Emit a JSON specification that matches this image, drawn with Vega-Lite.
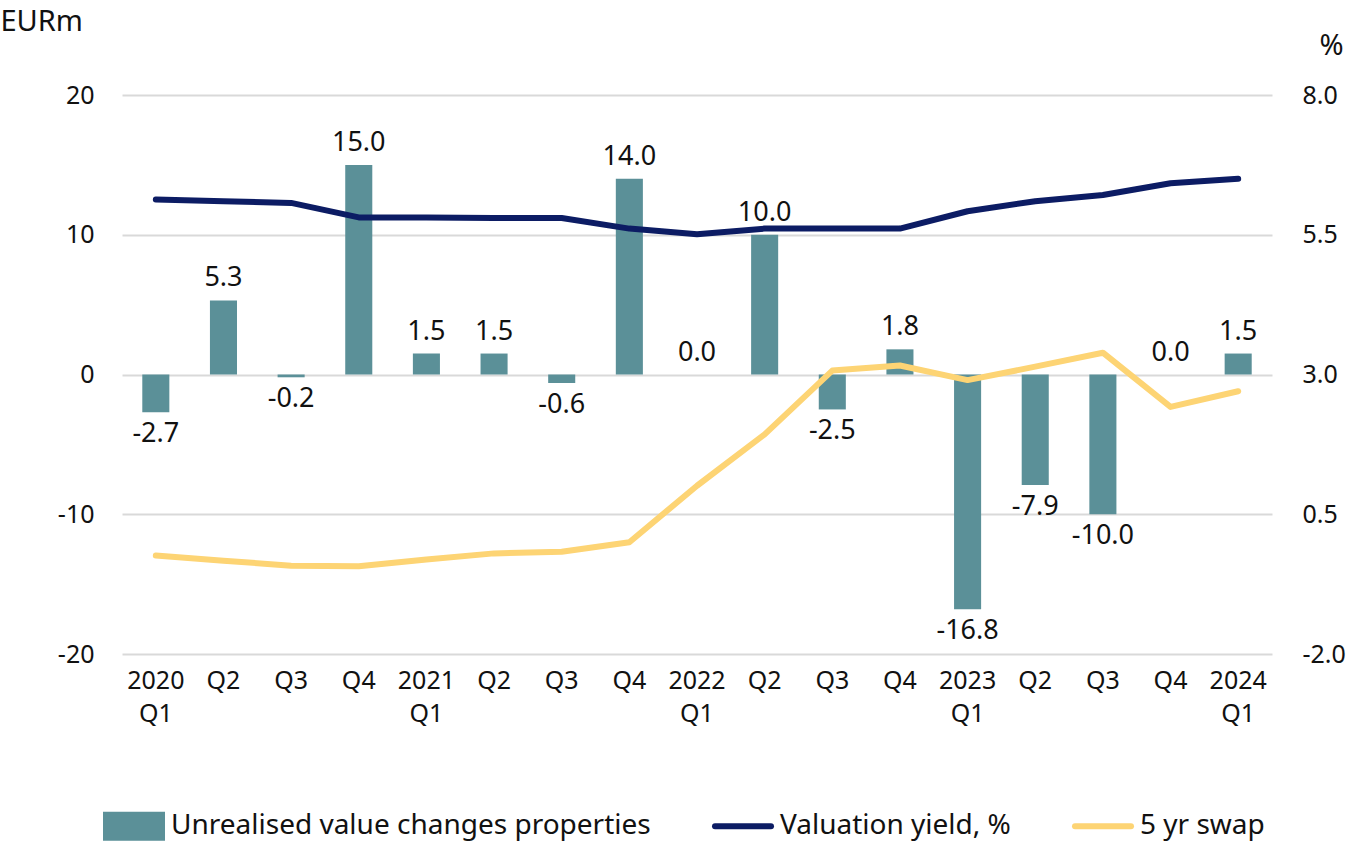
{
  "$schema": "https://vega.github.io/schema/vega-lite/v6.json",
  "width": 1150,
  "height": 559,
  "autosize": {"type": "none"},
  "padding": {"left": 122, "top": 95, "right": 85, "bottom": 188},
  "background": "white",
  "config": {
    "font": "Noto Sans",
    "view": {"stroke": null},
    "locale": {"number": {"decimal": ".", "thousands": ",", "grouping": [3], "currency": ["$", ""], "minus": "-"}},
    "axis": {"labelFont": "Noto Sans", "labelColor": "#111111", "titleFont": "Noto Sans", "titleColor": "#111111", "titleFontWeight": "normal"}
  },
  "data": {
    "values": [
      {"q": "2020 Q1", "v": -2.7, "yield": 6.13, "swap": -0.24},
      {"q": "2020 Q2", "v": 5.3, "yield": 6.10, "swap": -0.33},
      {"q": "2020 Q3", "v": -0.2, "yield": 6.07, "swap": -0.42},
      {"q": "2020 Q4", "v": 15.0, "yield": 5.81, "swap": -0.43},
      {"q": "2021 Q1", "v": 1.5, "yield": 5.81, "swap": -0.31},
      {"q": "2021 Q2", "v": 1.5, "yield": 5.80, "swap": -0.20},
      {"q": "2021 Q3", "v": -0.6, "yield": 5.80, "swap": -0.17},
      {"q": "2021 Q4", "v": 14.0, "yield": 5.61, "swap": 0.0},
      {"q": "2022 Q1", "v": 0.0, "yield": 5.51, "swap": 1.01},
      {"q": "2022 Q2", "v": 10.0, "yield": 5.61, "swap": 1.93},
      {"q": "2022 Q3", "v": -2.5, "yield": 5.61, "swap": 3.07},
      {"q": "2022 Q4", "v": 1.8, "yield": 5.61, "swap": 3.16},
      {"q": "2023 Q1", "v": -16.8, "yield": 5.92, "swap": 2.90},
      {"q": "2023 Q2", "v": -7.9, "yield": 6.10, "swap": 3.14},
      {"q": "2023 Q3", "v": -10.0, "yield": 6.21, "swap": 3.39},
      {"q": "2023 Q4", "v": 0.0, "yield": 6.42, "swap": 2.42},
      {"q": "2024 Q1", "v": 1.5, "yield": 6.50, "swap": 2.70}
    ]
  },
  "encoding": {
    "x": {
      "field": "q", "type": "nominal", "sort": null,
      "scale": {"paddingInner": 0, "paddingOuter": 0},
      "axis": {
        "title": null, "labelAngle": 0, "domain": false, "ticks": false, "grid": false,
        "labelFontSize": 25, "labelPadding": 14, "labelLineHeight": 33, "labelBaseline": "top",
        "labelExpr": "indexof(datum.label, 'Q1') >= 0 ? split(datum.label, ' ') : slice(datum.label, 5)"
      }
    }
  },
  "layer": [
    {
      "layer": [
        {
          "mark": {"type": "bar", "width": {"band": 0.4}},
          "encoding": {
            "y": {
              "field": "v", "type": "quantitative",
              "scale": {"domain": [-20, 20], "nice": false, "zero": false},
              "axis": {
                "values": [-20, -10, 0, 10, 20], "domain": false, "ticks": false,
                "grid": true, "gridColor": "#d9d9d9", "gridWidth": 2,
                "labelFontSize": 25, "labelPadding": 28,
                "title": "EURm", "titleAngle": 0, "titleFontSize": 29,
                "titleAlign": "left", "titleBaseline": "middle", "titleX": -122, "titleY": -74
              }
            },
            "color": {
              "datum": "Unrealised value changes properties",
              "type": "nominal",
              "scale": {
                "domain": ["Unrealised value changes properties", "Valuation yield, %", "5 yr swap"],
                "range": ["#5b9098", "#0c1c64", "#fdd474"]
              },
              "legend": {
                "title": null, "orient": "none", "direction": "horizontal",
                "legendX": -19, "legendY": 700,
                "labelFontSize": 28, "labelFont": "Noto Sans", "labelColor": "#111111",
                "labelLimit": 700, "labelOffset": 6, "columnPadding": 52,
                "symbolSize": 3136,
                "encode": {
                  "symbols": {
                    "update": {
                      "shape": {"signal": "datum.value === 'Unrealised value changes properties' ? 'M-1,-0.41H1V0.41H-1Z' : 'M-1,-0.41M-1,0H1M1,0.41'"},
                      "fill": {"signal": "datum.value === 'Unrealised value changes properties' ? '#5b9098' : 'transparent'"},
                      "stroke": {"signal": "datum.value === 'Unrealised value changes properties' ? 'transparent' : (datum.value === 'Valuation yield, %' ? '#0c1c64' : '#fdd474')"},
                      "strokeWidth": {"value": 6},
                      "strokeCap": {"value": "round"},
                      "opacity": {"value": 1},
                      "fillOpacity": {"value": 1},
                      "strokeOpacity": {"value": 1}
                    }
                  }
                }
              }
            }
          }
        },
        {
          "transform": [{"filter": "datum.v >= 0"}],
          "mark": {"type": "text", "fontSize": 27, "dy": -22, "baseline": "middle", "color": "#111111", "font": "Noto Sans"},
          "encoding": {
            "y": {"field": "v", "type": "quantitative"},
            "text": {"field": "v", "type": "quantitative", "format": ".1f"}
          }
        },
        {
          "transform": [{"filter": "datum.v < 0"}],
          "mark": {"type": "text", "fontSize": 27, "dy": 22, "baseline": "middle", "color": "#111111", "font": "Noto Sans"},
          "encoding": {
            "y": {"field": "v", "type": "quantitative"},
            "text": {"field": "v", "type": "quantitative", "format": ".1f"}
          }
        }
      ]
    },
    {
      "layer": [
        {
          "mark": {"type": "line", "strokeWidth": 6, "strokeCap": "round", "strokeJoin": "round"},
          "encoding": {
            "y": {
              "field": "yield", "type": "quantitative",
              "scale": {"domain": [-2, 8], "nice": false, "zero": false},
              "axis": {
                "orient": "right", "values": [-2, 0.5, 3, 5.5, 8], "format": ".1f",
                "domain": false, "ticks": false, "grid": false,
                "labelFontSize": 25, "labelPadding": 30,
                "title": "%", "titleAngle": 0, "titleFontSize": 29,
                "titleAlign": "right", "titleBaseline": "middle", "titleX": 71, "titleY": -50
              }
            },
            "color": {"datum": "Valuation yield, %", "type": "nominal"}
          }
        },
        {
          "mark": {"type": "line", "strokeWidth": 6, "strokeCap": "round", "strokeJoin": "round"},
          "encoding": {
            "y": {"field": "swap", "type": "quantitative"},
            "color": {"datum": "5 yr swap", "type": "nominal"}
          }
        }
      ]
    }
  ],
  "resolve": {"scale": {"y": "independent"}}
}
